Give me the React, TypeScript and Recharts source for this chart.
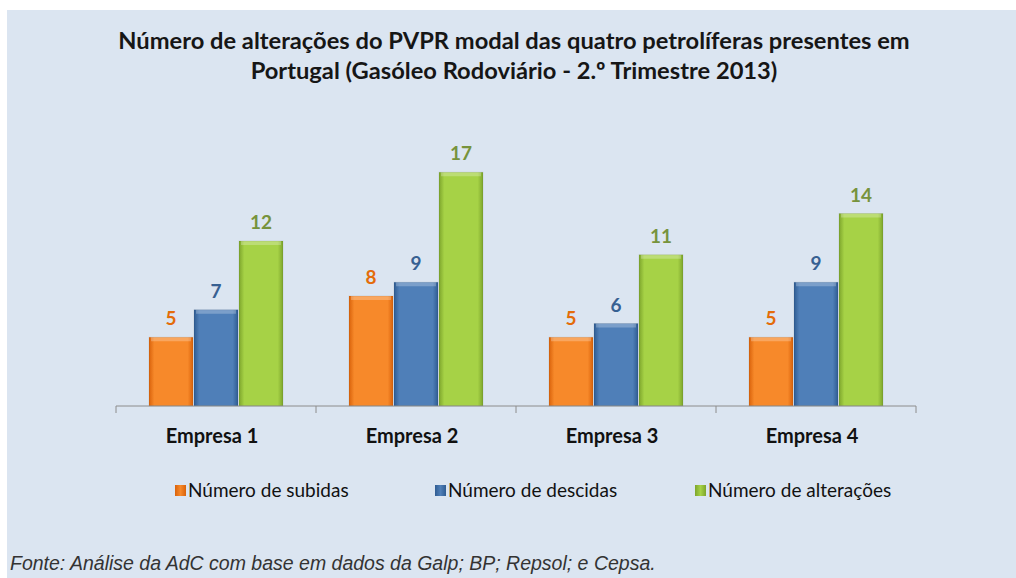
import React from 'react';
import { BarChart, Bar, XAxis, YAxis, LabelList } from 'recharts';

const categories = ['Empresa 1', 'Empresa 2', 'Empresa 3', 'Empresa 4'];
const subidas = [5, 8, 5, 5];
const descidas = [7, 9, 6, 9];
const alteracoes = [12, 17, 11, 14];

const seriesInfo = [
  { key: 'subidas', name: 'Número de subidas', light: '#F7892A', dark: '#D9620B', label: '#E46C0A' },
  { key: 'descidas', name: 'Número de descidas', light: '#4F7FB8', dark: '#2F5C92', label: '#376092' },
  { key: 'alteracoes', name: 'Número de alterações', light: '#A6D246', dark: '#7DA52C', label: '#77933C' },
];

const data = categories.map((c, i) => ({
  name: c,
  subidas: subidas[i],
  descidas: descidas[i],
  alteracoes: alteracoes[i],
}));

const FONT = 'Lato, "Open Sans", sans-serif';

const makeShape = (key: string) => (props: any) => {
  const { x, y, width, height } = props;
  if (!height || height <= 0) return null;
  return (
    <g>
      <rect x={x} y={y} width={width} height={height} fill={`url(#grad-${key})`} />
      <rect x={x + 2} y={y} width={width - 4} height={4} fill="#ffffff" fillOpacity={0.25} />
      <rect x={x} y={y} width={width} height={height} fill="none" stroke="#000" strokeOpacity={0.08} />
    </g>
  );
};

const CategoryTick = (props: any) => {
  const { x, y, payload, index, visibleTicksCount } = props;
  const off = payload.offset ?? 0;
  return (
    <g>
      <line x1={x - off} y1={y} x2={x - off} y2={y + 7} stroke="#8C8C8C" />
      {index === visibleTicksCount - 1 && (
        <line x1={x + off} y1={y} x2={x + off} y2={y + 7} stroke="#8C8C8C" />
      )}
      <text x={x - 4} y={y + 37} textAnchor="middle" fontFamily={FONT} fontWeight={700} fontSize={20} fill="#111">
        {payload.value}
      </text>
    </g>
  );
};

export default function App() {
  return (
    <div style={{ position: 'absolute', left: 0, top: 0, width: 1016, height: 578, background: '#fff' }}>
      <div style={{ position: 'absolute', left: 7, top: 10, width: 1009, height: 568, background: '#DBE5F1' }} />
      <div
        style={{
          position: 'absolute', left: 6, top: 25, width: 1016, textAlign: 'center',
          fontFamily: FONT, fontWeight: 700, fontSize: 23.7, lineHeight: '30px', color: '#161616',
        }}
      >
        Número de alterações do PVPR modal das quatro petrolíferas presentes em
        <br />
        Portugal (Gasóleo Rodoviário - 2.º Trimestre 2013)
      </div>
      <div style={{ position: 'absolute', left: 0, top: 0 }}>
        <BarChart
          width={1016}
          height={578}
          data={data}
          margin={{ top: 131, right: 100, bottom: 0, left: 116 }}
          barGap={1}
          barSize={44}
        >
          <defs>
            {seriesInfo.map((s) => (
              <linearGradient key={s.key} id={`grad-${s.key}`} x1="0" y1="0" x2="1" y2="0">
                <stop offset="0%" stopColor={s.dark} />
                <stop offset="12%" stopColor={s.light} />
                <stop offset="88%" stopColor={s.light} />
                <stop offset="100%" stopColor={s.dark} />
              </linearGradient>
            ))}
          </defs>
          <YAxis hide domain={[0, 20]} />
          <XAxis
            dataKey="name"
            height={172}
            tickLine={false}
            tickSize={0}
            tickMargin={0}
            axisLine={{ stroke: '#8C8C8C' }}
            tick={<CategoryTick />}
            interval={0}
          />
          {seriesInfo.map((s) => (
            <Bar key={s.key} dataKey={s.key} name={s.name} fill={s.light} isAnimationActive={false} shape={makeShape(s.key)}>
              <LabelList
                dataKey={s.key}
                position="top"
                offset={12}
                fill={s.label}
                fontFamily={FONT}
                fontWeight={700}
                fontSize={19}
              />
            </Bar>
          ))}
        </BarChart>
      </div>
      {seriesInfo.map((s, i) => (
        <div
          key={s.key}
          style={{
            position: 'absolute', left: 175 + i * 260, top: 478, display: 'flex', alignItems: 'center',
            fontFamily: FONT, fontSize: 19, lineHeight: '24px', color: '#111',
          }}
        >
          <span
            style={{
              display: 'inline-block', width: 11, height: 11, marginRight: 2,
              background: `linear-gradient(to right, ${s.dark}, ${s.light}, ${s.dark})`,
            }}
          />
          {s.name}
        </div>
      ))}
      <div
        style={{
          position: 'absolute', left: 10, top: 551, fontFamily: '"Liberation Sans", Arial, sans-serif',
          fontStyle: 'italic', fontSize: 19.5, lineHeight: '24px', color: '#333',
        }}
      >
        Fonte: Análise da AdC com base em dados da Galp; BP; Repsol; e Cepsa.
      </div>
    </div>
  );
}
